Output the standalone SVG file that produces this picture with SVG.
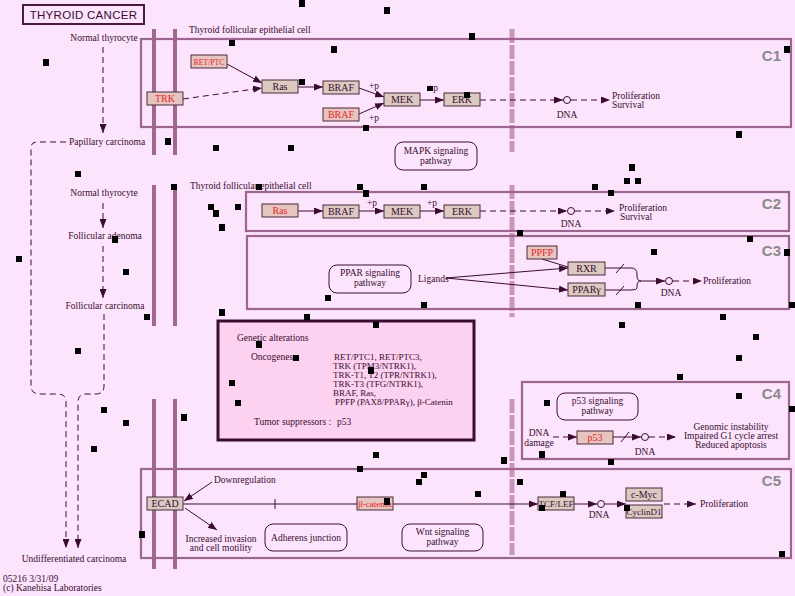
<svg xmlns="http://www.w3.org/2000/svg" width="795" height="596" viewBox="0 0 795 596">
<style>
text{font-family:"Liberation Serif","Times New Roman",serif;font-size:9.5px;fill:#3a0c30}
.c{text-anchor:middle}
.red{fill:#e8262a}
.node rect{fill:#dccac2;stroke:#4a2a3a;stroke-width:1}
.rnode rect{fill:#e6c4c0;stroke:#4a2a3a;stroke-width:1}
.nl{font-size:10px;text-anchor:middle}
.box{fill:none;stroke:#9c6690;stroke-width:2.2}
.lab{font-family:"Liberation Sans",Arial,sans-serif;font-size:15px;font-weight:bold;fill:#8a8a8a;text-anchor:end}
.mem{stroke:#a06890;stroke-width:4}
.dmem{stroke:#c896b8;stroke-width:5;stroke-dasharray:14,2}
.ln{fill:none;stroke:#3a0c30;stroke-width:1}
.dl{fill:none;stroke:#3a0c30;stroke-width:1;stroke-dasharray:6,4}
.rr{fill:none;stroke:#3a0c30;stroke-width:1}
.sq{fill:#000}
.gl{font-size:9px}
</style>
<defs>
<marker id="ah" markerWidth="9" markerHeight="7" refX="9" refY="3.5" orient="auto" markerUnits="userSpaceOnUse">
<path d="M0,0 L9,3.5 L0,7 z" fill="#3a0c30"/>
</marker>
</defs>
<rect width="795" height="596" fill="#fce4fc"/>

<!-- title -->
<g id="title">
<rect x="23" y="5" width="121" height="19" fill="none" stroke="#4a1a40" stroke-width="2"/>
<text x="83.5" y="19" class="c" style="font-family:'Liberation Sans',Arial,sans-serif;font-size:11.5px;letter-spacing:0.3px">THYROID  CANCER</text>
</g>

<!-- membranes -->
<g id="membranes">
<line class="mem" x1="154" y1="29" x2="154" y2="155"/>
<line class="mem" x1="175" y1="29" x2="175" y2="155"/>
<line class="mem" x1="154" y1="185" x2="154" y2="326"/>
<line class="mem" x1="175" y1="185" x2="175" y2="326"/>
<line class="mem" x1="154" y1="399" x2="154" y2="569"/>
<line class="mem" x1="175" y1="399" x2="175" y2="569"/>
<line class="dmem" x1="512" y1="29" x2="512" y2="152"/>
<line class="dmem" x1="512" y1="185" x2="512" y2="317"/>
<line class="dmem" x1="512" y1="399" x2="512" y2="555"/>
</g>

<!-- compartment boxes -->
<g id="C1box"><rect class="box" x="141" y="39" width="650" height="88"/><text class="lab" x="781" y="61">C1</text></g>
<g id="C2box"><rect class="box" x="246" y="192" width="543" height="39"/><text class="lab" x="781" y="209">C2</text></g>
<g id="C3box"><rect class="box" x="247" y="236" width="542" height="73"/><text class="lab" x="781" y="256">C3</text></g>
<g id="C4box"><rect class="box" x="522" y="382" width="267" height="77"/><text class="lab" x="781" y="399">C4</text></g>
<g id="C5box"><rect class="box" x="141" y="469" width="650" height="89"/><text class="lab" x="781" y="486">C5</text></g>

<!-- labels -->
<g id="labels">
<text x="189" y="33">Thyroid follicular epithelial cell</text>
<text x="190" y="189">Thyroid follicular epithelial cell</text>
<text x="104" y="41" class="c">Normal thyrocyte</text>
<text x="107" y="145" class="c">Papillary carcinoma</text>
<text x="104" y="196" class="c">Normal thyrocyte</text>
<text x="105" y="239" class="c">Follicular adenoma</text>
<text x="105" y="309" class="c">Follicular carcinoma</text>
<text x="74" y="562" class="c">Undifferentiated carcinoma</text>
<text x="3" y="582">05216 3/31/09</text>
<text x="3" y="591">(c) Kanehisa Laboratories</text>
</g>

<!-- connectors -->
<g id="connectors">
<line class="dl" x1="103" y1="47" x2="103" y2="133" marker-end="url(#ah)"/>
<path class="dl" d="M66,142 L37,142 Q31,142 31,148 L31,386 Q31,394 40,394 L58,394 Q66,394 66,402 L66,548" marker-end="url(#ah)"/>
<line class="dl" x1="103" y1="203" x2="103" y2="228" marker-end="url(#ah)"/>
<line class="dl" x1="103" y1="246" x2="103" y2="298" marker-end="url(#ah)"/>
<path class="dl" d="M104,314 L104,386 Q104,394 96,394 L86,394 Q78,394 78,402 L78,548" marker-end="url(#ah)"/>
<line class="ln" x1="227" y1="64" x2="262" y2="83" marker-end="url(#ah)"/>
<line class="dl" x1="183" y1="99" x2="262" y2="88" marker-end="url(#ah)"/>
<line class="ln" x1="298" y1="87" x2="323" y2="87" marker-end="url(#ah)"/>
<line class="ln" x1="359" y1="88" x2="384" y2="97" marker-end="url(#ah)"/>
<line class="ln" x1="359" y1="114" x2="384" y2="103" marker-end="url(#ah)"/>
<line class="ln" x1="420" y1="100" x2="444" y2="100" marker-end="url(#ah)"/>
<line class="dl" x1="480" y1="100" x2="563" y2="100" marker-end="url(#ah)"/>
<circle cx="567" cy="100" r="3.5" fill="none" stroke="#3a0c30"/>
<line class="dl" x1="571" y1="100" x2="610" y2="100" marker-end="url(#ah)"/>
<line class="ln" x1="298" y1="211" x2="323" y2="211" marker-end="url(#ah)"/>
<line class="ln" x1="359" y1="211" x2="384" y2="211" marker-end="url(#ah)"/>
<line class="ln" x1="420" y1="211" x2="444" y2="211" marker-end="url(#ah)"/>
<line class="dl" x1="480" y1="211" x2="567" y2="211" marker-end="url(#ah)"/>
<circle cx="571" cy="211" r="3.5" fill="none" stroke="#3a0c30"/>
<line class="dl" x1="575" y1="211" x2="615" y2="211" marker-end="url(#ah)"/>
<line class="ln" x1="446" y1="278" x2="568" y2="268" marker-end="url(#ah)"/>
<line class="ln" x1="446" y1="278" x2="568" y2="290" marker-end="url(#ah)"/>
<line class="ln" x1="542" y1="259" x2="568" y2="267"/>
<path class="ln" d="M605,268 L631,268 Q637,268 637,274 L637,276 Q637,281 641,281 Q637,281 637,286 L637,288 Q637,290 631,290 L605,290"/>
<line class="ln" x1="616" y1="273" x2="624" y2="264"/>
<line class="ln" x1="616" y1="295" x2="624" y2="286"/>
<line class="ln" x1="641" y1="281" x2="665" y2="281" marker-end="url(#ah)"/>
<circle cx="669" cy="281" r="3.5" fill="none" stroke="#3a0c30"/>
<line class="dl" x1="673" y1="281" x2="702" y2="281" marker-end="url(#ah)"/>
<line class="dl" x1="553" y1="437" x2="577" y2="437" marker-end="url(#ah)"/>
<line class="ln" x1="613" y1="437" x2="641" y2="437" marker-end="url(#ah)"/>
<line class="ln" x1="621" y1="442" x2="629" y2="432"/>
<circle cx="645" cy="437" r="3.5" fill="none" stroke="#3a0c30"/>
<line class="dl" x1="649" y1="437" x2="676" y2="437" marker-end="url(#ah)"/>
<line class="ln" x1="212" y1="482" x2="184" y2="501" marker-end="url(#ah)"/>
<line class="ln" x1="185" y1="508" x2="217" y2="530" marker-end="url(#ah)"/>
<line class="ln" x1="183" y1="504" x2="357" y2="504"/>
<line class="ln" x1="275" y1="499" x2="275" y2="509"/>
<line class="ln" x1="393" y1="504" x2="538" y2="504" marker-end="url(#ah)"/>
<line class="ln" x1="574" y1="504" x2="597" y2="504" marker-end="url(#ah)"/>
<circle cx="601" cy="504" r="3.5" fill="none" stroke="#3a0c30"/>
<line class="ln" x1="605" y1="504" x2="626" y2="504" marker-end="url(#ah)"/>
<line class="dl" x1="664" y1="504" x2="696" y2="504" marker-end="url(#ah)"/>
</g>

<!-- C1 nodes -->
<g id="n-retptc" class="rnode"><rect x="191" y="55" width="36" height="13"/><text class="nl red" x="209" y="65" style="font-size:9px" textLength="31" lengthAdjust="spacingAndGlyphs">RET/PTC</text></g>
<g id="n-trk" class="rnode"><rect x="147" y="92" width="36" height="13"/><text class="nl red" x="165" y="102">TRK</text></g>
<g id="n-ras1" class="node"><rect x="262" y="80" width="36" height="13"/><text class="nl" x="280" y="90">Ras</text></g>
<g id="n-braf1" class="node"><rect x="323" y="81" width="36" height="13"/><text class="nl" x="341" y="91">BRAF</text></g>
<g id="n-braf1r" class="rnode"><rect x="323" y="108" width="36" height="13"/><text class="nl red" x="341" y="118">BRAF</text></g>
<g id="n-mek1" class="node"><rect x="384" y="93" width="36" height="13"/><text class="nl" x="402" y="103">MEK</text></g>
<g id="n-erk1" class="node"><rect x="444" y="93" width="36" height="13"/><text class="nl" x="462" y="103">ERK</text></g>
<g id="c1-text">
<text x="369" y="89">+p</text><text x="369" y="121">+p</text><text x="428" y="91">+p</text>
<text x="567" y="118" class="c">DNA</text>
<text x="612" y="99">Proliferation</text><text x="628" y="108" class="c">Survival</text>
</g>
<g id="mapk"><rect class="rr" x="395" y="142" width="82" height="28" rx="8"/><text x="436" y="154" class="c">MAPK signaling</text><text x="436" y="164" class="c">pathway</text></g>

<!-- C2 nodes -->
<g id="n-ras2" class="rnode"><rect x="262" y="204" width="36" height="13"/><text class="nl red" x="280" y="214">Ras</text></g>
<g id="n-braf2" class="node"><rect x="323" y="205" width="36" height="13"/><text class="nl" x="341" y="215">BRAF</text></g>
<g id="n-mek2" class="node"><rect x="384" y="205" width="36" height="13"/><text class="nl" x="402" y="215">MEK</text></g>
<g id="n-erk2" class="node"><rect x="444" y="205" width="36" height="13"/><text class="nl" x="462" y="215">ERK</text></g>
<g id="c2-text">
<text x="367" y="206">+p</text><text x="427" y="206">+p</text>
<text x="571" y="227" class="c">DNA</text>
<text x="619" y="211">Proliferation</text><text x="636" y="220" class="c">Survival</text>
</g>

<!-- C3 -->
<g id="ppar"><rect class="rr" x="329" y="265" width="82" height="28" rx="8"/><text x="370" y="276" class="c">PPAR signaling</text><text x="370" y="286" class="c">pathway</text></g>
<g id="n-ppfp" class="rnode"><rect x="527" y="246" width="30" height="13"/><text class="nl red" x="542" y="256">PPFP</text></g>
<g id="n-rxr" class="node"><rect x="568" y="262" width="37" height="13"/><text class="nl" x="586.5" y="272">RXR</text></g>
<g id="n-pparg" class="node"><rect x="568" y="283" width="37" height="13"/><text class="nl" x="586.5" y="293">PPARγ</text></g>
<g id="c3-text">
<text x="418" y="282">Ligands</text>
<text x="671" y="296" class="c">DNA</text>
<text x="703" y="284">Proliferation</text>
</g>

<!-- genetic alterations -->
<g id="genetic">
<rect x="218" y="321" width="256" height="119" fill="#fcd2f0" stroke="#3a0c30" stroke-width="3"/>
<text x="237" y="341">Genetic alterations</text>
<text x="251" y="360">Oncogenes :</text>
<text class="gl" x="334" y="360">RET/PTC1, RET/PTC3,</text>
<text class="gl" x="333" y="369">TRK (TPM3/NTRK1),</text>
<text class="gl" x="333" y="378">TRK-T1, T2 (TPR/NTRK1),</text>
<text class="gl" x="333" y="387">TRK-T3 (TFG/NTRK1),</text>
<text class="gl" x="333" y="396">BRAF, Ras,</text>
<text class="gl" x="335" y="405">PPFP (PAX8/PPARγ), β-Catenin</text>
<text x="254" y="425">Tumor suppressors :</text>
<text x="337" y="425">p53</text>
</g>

<!-- C4 -->
<g id="p53path"><rect class="rr" x="557" y="393" width="81" height="27" rx="8"/><text x="597.5" y="404" class="c">p53 signaling</text><text x="597.5" y="414" class="c">pathway</text></g>
<g id="n-p53" class="rnode"><rect x="577" y="431" width="36" height="13"/><text class="nl red" x="595" y="441">p53</text></g>
<g id="c4-text">
<text x="539" y="436" class="c">DNA</text><text x="539" y="446" class="c">damage</text>
<text x="645" y="455" class="c">DNA</text>
<text x="731" y="430" class="c">Genomic instability</text>
<text x="731" y="439" class="c">Impaired G1 cycle arrest</text>
<text x="731" y="448" class="c">Reduced apoptosis</text>
</g>

<!-- C5 -->
<g id="n-ecad" class="node"><rect x="147" y="497" width="36" height="13"/><text class="nl" x="165" y="507">ECAD</text></g>
<g id="n-bcat" class="rnode"><rect x="357" y="497" width="36" height="13"/><text class="nl red" x="375" y="507" style="font-size:9px">β-catenin</text></g>
<g id="n-tcf" class="node"><rect x="538" y="497" width="36" height="13"/><text class="nl" x="556" y="507" style="font-size:9px">TCF/LEF</text></g>
<g id="n-myc" class="node"><rect x="626" y="488" width="36" height="13"/><text class="nl" x="644" y="498">c-Myc</text></g>
<g id="n-ccnd" class="node"><rect x="626" y="505" width="36" height="13"/><text class="nl" x="644" y="515" style="font-size:9px">CyclinD1</text></g>
<g id="adherens"><rect class="rr" x="265" y="524" width="82" height="27" rx="8"/><text x="306" y="541" class="c">Adherens junction</text></g>
<g id="wnt"><rect class="rr" x="402" y="524" width="81" height="27" rx="8"/><text x="442.5" y="535" class="c">Wnt signaling</text><text x="442.5" y="545" class="c">pathway</text></g>
<g id="c5-text">
<text x="214" y="483">Downregulation</text>
<text x="221" y="542" class="c">Increased invasion</text>
<text x="221" y="551" class="c">and cell motility</text>
<text x="599" y="518" class="c">DNA</text>
<text x="700" y="507">Proliferation</text>
</g>

<!-- scattered squares -->
<g id="squares" class="sq">
<rect x="299" y="0" width="6" height="7"/><rect x="384" y="7" width="6" height="7"/><rect x="43" y="59" width="6" height="7"/>
<rect x="229" y="40" width="6" height="6"/><rect x="331" y="46" width="6" height="7"/><rect x="299" y="79" width="6" height="6"/>
<rect x="363" y="125" width="6" height="6"/><rect x="165" y="138" width="6" height="7"/><rect x="213" y="145" width="6" height="6"/>
<rect x="288" y="145" width="6" height="6"/><rect x="469" y="33" width="6" height="7"/><rect x="784" y="46" width="6" height="7"/>
<rect x="427" y="86" width="6" height="5"/><rect x="464" y="92" width="6" height="6"/><rect x="736" y="131" width="6" height="7"/>
<rect x="75" y="171" width="6" height="6"/><rect x="171" y="184" width="6" height="6"/><rect x="256" y="184" width="6" height="6"/>
<rect x="357" y="184" width="6" height="6"/><rect x="363" y="190" width="6" height="7"/><rect x="208" y="204" width="6" height="6"/>
<rect x="213" y="210" width="6" height="7"/><rect x="235" y="204" width="6" height="6"/><rect x="219" y="224" width="6" height="7"/>
<rect x="112" y="236" width="6" height="7"/><rect x="16" y="256" width="6" height="6"/><rect x="123" y="269" width="6" height="6"/>
<rect x="325" y="295" width="6" height="6"/><rect x="219" y="309" width="6" height="7"/><rect x="144" y="314" width="6" height="6"/>
<rect x="304" y="314" width="6" height="6"/><rect x="629" y="164" width="6" height="7"/><rect x="624" y="178" width="6" height="6"/>
<rect x="635" y="178" width="6" height="6"/><rect x="421" y="184" width="6" height="6"/><rect x="592" y="184" width="6" height="6"/>
<rect x="608" y="190" width="6" height="6"/><rect x="517" y="230" width="6" height="6"/><rect x="747" y="236" width="6" height="6"/>
<rect x="651" y="249" width="6" height="6"/><rect x="784" y="249" width="6" height="7"/><rect x="421" y="302" width="6" height="6"/>
<rect x="635" y="302" width="6" height="6"/><rect x="789" y="302" width="6" height="6"/><rect x="720" y="314" width="6" height="6"/>
<rect x="373" y="322" width="6" height="6"/><rect x="75" y="348" width="6" height="6"/><rect x="256" y="341" width="6" height="7"/>
<rect x="293" y="355" width="6" height="6"/><rect x="368" y="367" width="6" height="7"/><rect x="229" y="380" width="6" height="6"/>
<rect x="235" y="400" width="6" height="6"/><rect x="101" y="407" width="6" height="6"/><rect x="123" y="420" width="6" height="6"/>
<rect x="181" y="414" width="6" height="7"/><rect x="91" y="446" width="6" height="6"/><rect x="373" y="452" width="6" height="6"/>
<rect x="619" y="322" width="6" height="6"/><rect x="753" y="334" width="6" height="6"/><rect x="736" y="355" width="6" height="6"/>
<rect x="677" y="374" width="6" height="6"/><rect x="544" y="400" width="6" height="6"/><rect x="736" y="393" width="6" height="6"/>
<rect x="789" y="406" width="6" height="6"/><rect x="539" y="451" width="6" height="7"/><rect x="501" y="457" width="6" height="7"/>
<rect x="608" y="459" width="6" height="6"/><rect x="357" y="466" width="6" height="6"/><rect x="384" y="498" width="6" height="7"/>
<rect x="139" y="531" width="6" height="7"/><rect x="421" y="472" width="6" height="6"/><rect x="416" y="479" width="6" height="6"/>
<rect x="517" y="479" width="6" height="6"/><rect x="475" y="491" width="6" height="6"/><rect x="560" y="491" width="6" height="6"/>
<rect x="539" y="505" width="6" height="6"/><rect x="624" y="505" width="6" height="6"/><rect x="779" y="551" width="6" height="6"/>
</g>
</svg>
